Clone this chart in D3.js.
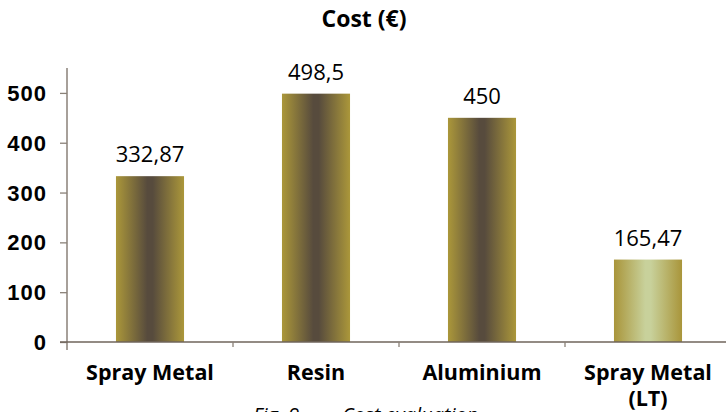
<!DOCTYPE html>
<html>
<head>
<meta charset="utf-8">
<script src="https://cdn.jsdelivr.net/npm/d3@7"></script>
<style>
  html, body { margin: 0; padding: 0; background: #fff; }
  svg { display: block; font-family: "Open Sans", "DejaVu Sans", sans-serif; }
</style>
</head>
<body>
<svg id="chart" width="726" height="412"></svg>
<script>
const categories = ["Spray Metal", "Resin", "Aluminium", "Spray Metal (LT)"];
const categoryLines = [["Spray Metal"], ["Resin"], ["Aluminium"], ["Spray Metal", "(LT)"]];
const costs = [332.87, 498.5, 450, 165.47];
const costLabels = ["332,87", "498,5", "450", "165,47"];
const yTicks = [0, 100, 200, 300, 400, 500];
const title = "Cost (€)";
const captionParts = ["Fig. 9 –", "Cost evaluation"];

const svg = d3.select("#chart");
const W = 726, H = 412;

const x = d3.scaleBand().domain(categories).range([67, 731]).padding(0);
const y = d3.scaleLinear().domain([0, 550]).range([342, 68]);

// gradients
const defs = svg.append("defs");
function grad(id, edge, mid) {
  const g = defs.append("linearGradient").attr("id", id)
    .attr("x1", "0%").attr("x2", "100%").attr("y1", "0%").attr("y2", "0%");
  g.append("stop").attr("offset", "0%").attr("stop-color", edge);
  g.append("stop").attr("offset", "46%").attr("stop-color", mid);
  g.append("stop").attr("offset", "54%").attr("stop-color", mid);
  g.append("stop").attr("offset", "100%").attr("stop-color", edge);
}
grad("gDark", "#ab973a", "#574b3d");
grad("gLight", "#a9953a", "#c8d19b");

// title
svg.append("text").attr("x", 364).attr("y", 27)
  .attr("text-anchor", "middle").attr("font-weight", "bold")
  .attr("font-size", 23).attr("fill", "#000").text(title);

// bars
const barFrac = 0.41;
svg.selectAll("rect.bar").data(categories).join("rect")
  .attr("class", "bar")
  .attr("x", d => x(d) + x.bandwidth() * (1 - barFrac) / 2)
  .attr("width", x.bandwidth() * barFrac)
  .attr("y", (d, i) => y(costs[i]))
  .attr("height", (d, i) => y(0) - y(costs[i]))
  .attr("fill", (d, i) => i === 3 ? "url(#gLight)" : "url(#gDark)");

// value labels
svg.selectAll("text.val").data(categories).join("text")
  .attr("class", "val")
  .attr("x", d => x(d) + x.bandwidth() / 2)
  .attr("y", (d, i) => y(costs[i]) - 14)
  .attr("text-anchor", "middle").attr("font-size", 22).attr("fill", "#000")
  .text((d, i) => costLabels[i]);

// y axis
const axisColor = "#8a8178";
const yAxis = svg.append("g").attr("transform", "translate(67,0)")
  .call(d3.axisLeft(y).tickValues(yTicks).tickSize(7).tickPadding(13).tickFormat(d3.format("d")));
yAxis.select(".domain").remove();
yAxis.selectAll(".tick line").attr("stroke", axisColor).attr("stroke-width", 1.3);
yAxis.selectAll(".tick text").attr("font-size", 22).attr("font-weight", "bold")
  .attr("letter-spacing", 1).attr("dy", "0.34em")
  .attr("fill", "#000").attr("font-family", null);
svg.append("line").attr("x1", 67).attr("x2", 67).attr("y1", y(550)).attr("y2", 350)
  .attr("stroke", axisColor).attr("stroke-width", 1.5);

// x axis
const xAxis = svg.append("g").attr("transform", `translate(0,${y(0)})`)
  .call(d3.axisBottom(x).tickSize(0).tickFormat(""));
xAxis.select(".domain").remove();
svg.append("line").attr("x1", 60).attr("x2", W).attr("y1", y(0)).attr("y2", y(0))
  .attr("stroke", "#6f655b").attr("stroke-width", 1.5);
// boundary ticks
svg.selectAll("line.bt").data(categories.slice(1)).join("line")
  .attr("class", "bt")
  .attr("x1", d => x(d)).attr("x2", d => x(d))
  .attr("y1", y(0)).attr("y2", y(0) + 5)
  .attr("stroke", axisColor).attr("stroke-width", 1.3);

// category labels
const cl = svg.selectAll("text.cat").data(categories).join("text")
  .attr("class", "cat")
  .attr("x", d => x(d) + x.bandwidth() / 2)
  .attr("y", 380)
  .attr("text-anchor", "middle").attr("font-size", 21.5).attr("font-weight", "bold")
  .attr("fill", "#000");
cl.each(function(d, i) {
  const t = d3.select(this);
  categoryLines[i].forEach((ln, j) => {
    t.append("tspan").attr("x", x(d) + x.bandwidth() / 2)
      .attr("dy", j === 0 ? 0 : 26).text(ln);
  });
});

// caption
const cap = svg.append("text").attr("y", 422)
  .attr("font-size", 20).attr("font-style", "italic").attr("fill", "#000");
cap.append("tspan").attr("x", 253).text(captionParts[0]);
cap.append("tspan").attr("x", 342).text(captionParts[1]);
</script>
</body>
</html>
